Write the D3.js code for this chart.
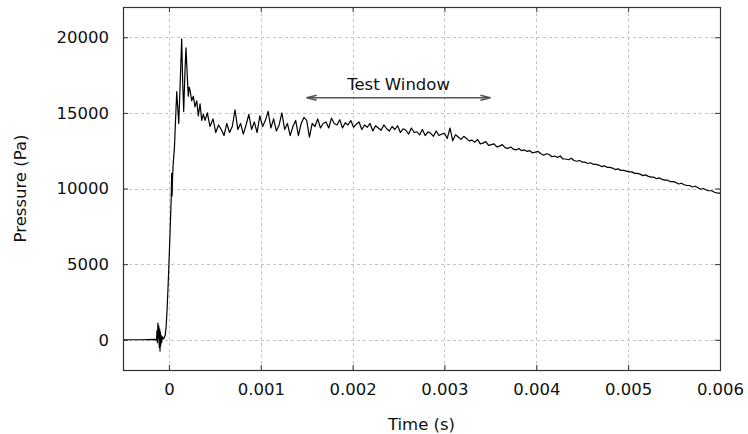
<!DOCTYPE html>
<html>
<head>
<meta charset="utf-8">
<script src="https://cdn.jsdelivr.net/npm/d3@7"></script>
<style>
  body { margin: 0; background: #fff; }
  text { font-family: "DejaVu Sans", Verdana, sans-serif; fill: #111; }
</style>
</head>
<body>
<script>
// Pressure trace: [time (s), pressure (Pa)]
const trace = [
  [-0.0005, 0], [-0.0003, 0], [-0.00015, 20], [-0.000135, -30], [-0.00013, 600], [-0.000125, -200],
  [-0.00012, 1100], [-0.000115, 100], [-0.00011, 900], [-0.000105, -500], [-0.0001, 700],
  [-0.000097, -750], [-0.000093, 500], [-0.00009, -400], [-0.000085, 300], [-0.00008, -200],
  [-0.00007, 200], [-0.00006, 50], [-0.00005, 150], [-0.00004, 300], [-0.00003, 900],
  [-0.00002, 2000], [-0.00001, 3400], [0, 5000], [0.00001, 6700], [0.00002, 8500],
  [0.000026, 9600], [0.00003, 11000], [0.000034, 9500], [0.00004, 10800], [0.000045, 11500],
  [0.00006, 12700], [0.00007, 14200], [0.000085, 16400], [0.000107, 14300], [0.00012, 16500],
  [0.000139, 19900], [0.00015, 17000], [0.000161, 15100], [0.000175, 17800], [0.000186, 19300],
  [0.0002, 17400], [0.000211, 16100], [0.00022, 16700], [0.00023, 16500], [0.000248, 15800],
  [0.000266, 16100], [0.000284, 15400], [0.000303, 15800], [0.00032, 14800], [0.000339, 15600],
  [0.000357, 14500], [0.000375, 14900], [0.000393, 14500], [0.000418, 15000], [0.000447, 14100],
  [0.00048, 14600], [0.00051, 13700], [0.00054, 14200], [0.00057, 13900], [0.0006, 13500],
  [0.00063, 14300], [0.00066, 13700], [0.00069, 14100], [0.00072, 15200], [0.00075, 13900],
  [0.00078, 14300], [0.00081, 13600], [0.00084, 14200], [0.00087, 14900], [0.0009, 13900],
  [0.00093, 14400], [0.00096, 13700], [0.00099, 14800], [0.00102, 14100], [0.00105, 14500],
  [0.00108, 15100], [0.00111, 14000], [0.00114, 14600], [0.00117, 13800], [0.0012, 14200],
  [0.00123, 15000], [0.00126, 13900], [0.00129, 14300], [0.00132, 13500], [0.00135, 14100],
  [0.00138, 14500], [0.00141, 13500], [0.00144, 14300], [0.00147, 14700], [0.0015, 14500],
  [0.00153, 13400], [0.00156, 14300], [0.00159, 14100], [0.00162, 14600], [0.00165, 14000],
  [0.00168, 14300], [0.00171, 14400], [0.00174, 14000], [0.00177, 14650], [0.0018, 14300],
  [0.00183, 14200], [0.00186, 14550], [0.00189, 14000], [0.00192, 14350], [0.00195, 14200],
  [0.00198, 14500], [0.00201, 14050], [0.00204, 14250], [0.00207, 14400], [0.0021, 13900],
  [0.00213, 14200], [0.00216, 14050], [0.00219, 14300], [0.00222, 13800], [0.00225, 14150],
  [0.00228, 14000], [0.00231, 13850], [0.00234, 14200], [0.00237, 13950], [0.0024, 13800],
  [0.00243, 14100], [0.00246, 13900], [0.00249, 14150], [0.00252, 13700], [0.00255, 13950],
  [0.00258, 13850], [0.00261, 13600], [0.00264, 14000], [0.00267, 13700], [0.0027, 13750],
  [0.00273, 13550], [0.00276, 13900], [0.00279, 13500], [0.00282, 13750], [0.00285, 13650],
  [0.00288, 13450], [0.00291, 13800], [0.00294, 13500], [0.00297, 13600], [0.003, 13650],
  [0.00303, 13300], [0.00306, 14000], [0.00309, 13150], [0.00312, 13550], [0.00315, 13400],
  [0.00318, 13250], [0.00321, 13450], [0.00324, 13300], [0.00327, 13150], [0.0033, 13200],
  [0.00333, 13050], [0.00336, 13250], [0.00339, 12950], [0.00342, 13000], [0.00345, 13100],
  [0.00348, 12850], [0.00351, 12900], [0.00354, 12950], [0.00357, 12750], [0.0036, 12800],
  [0.00363, 12900], [0.00366, 12700], [0.00369, 12650], [0.00372, 12750], [0.00375, 12600],
  [0.00378, 12550], [0.00381, 12650], [0.00384, 12500], [0.00387, 12550], [0.0039, 12450],
  [0.00393, 12500], [0.00396, 12350], [0.00399, 12400], [0.00402, 12450], [0.00405, 12300],
  [0.00408, 12200], [0.00411, 12300], [0.00414, 12250], [0.00417, 12100], [0.0042, 12150],
  [0.00423, 12050], [0.00426, 12150], [0.00429, 11950], [0.00432, 11950], [0.00435, 11900],
  [0.00438, 12000], [0.00441, 11850], [0.00444, 11800], [0.00447, 11850], [0.0045, 11750],
  [0.00453, 11750], [0.00456, 11650], [0.00459, 11700], [0.00462, 11600], [0.00465, 11600],
  [0.00468, 11550], [0.00471, 11450], [0.00474, 11500], [0.00477, 11400], [0.0048, 11400],
  [0.00483, 11350], [0.00486, 11250], [0.00489, 11300], [0.00492, 11200], [0.00495, 11200],
  [0.00498, 11150], [0.00501, 11100], [0.00504, 11100], [0.00507, 11000], [0.0051, 11000],
  [0.00513, 10950], [0.00516, 10850], [0.00519, 10900], [0.00522, 10800], [0.00525, 10750],
  [0.00528, 10750], [0.00531, 10650], [0.00534, 10700], [0.00537, 10600], [0.0054, 10550],
  [0.00543, 10550], [0.00546, 10450], [0.00549, 10450], [0.00552, 10400], [0.00555, 10300],
  [0.00558, 10350], [0.00561, 10250], [0.00564, 10200], [0.00567, 10200], [0.0057, 10100],
  [0.00573, 10150], [0.00576, 10050], [0.00579, 9950], [0.00582, 10000], [0.00585, 9900],
  [0.00588, 9850], [0.00591, 9850], [0.00594, 9750], [0.00597, 9700], [0.006, 9700]
];

const xTicks = [0, 0.001, 0.002, 0.003, 0.004, 0.005, 0.006];
const xTickLabels = ['0', '0.001', '0.002', '0.003', '0.004', '0.005', '0.006'];
const yTicks = [0, 5000, 10000, 15000, 20000];
const yTickLabels = ['0', '5000', '10000', '15000', '20000'];

// annotation: test window arrow
const windowStart = 0.0015;
const windowEnd = 0.0035;
const windowLevel = 16000;
const windowLabel = 'Test Window';

const width = 748;
const height = 434;
const margin = { top: 7, right: 28, bottom: 64, left: 123 };

const x = d3.scaleLinear()
  .domain([-0.0005, 0.006])
  .range([margin.left, width - margin.right]);

const y = d3.scaleLinear()
  .domain([-2000, 22000])
  .range([height - margin.bottom, margin.top]);

const svg = d3.select('body')
  .append('svg')
  .attr('width', width)
  .attr('height', height);

// Grid
const grid = svg.append('g')
  .attr('stroke', '#c4c4c4')
  .attr('stroke-width', 1)
  .attr('stroke-dasharray', '3,3');

grid.selectAll('.vgrid')
  .data(xTicks)
  .enter()
  .append('line')
  .attr('x1', d => Math.round(x(d)) + 0.5)
  .attr('x2', d => Math.round(x(d)) + 0.5)
  .attr('y1', y.range()[1])
  .attr('y2', y.range()[0]);

grid.selectAll('.hgrid')
  .data(yTicks)
  .enter()
  .append('line')
  .attr('y1', d => Math.round(y(d)) + 0.5)
  .attr('y2', d => Math.round(y(d)) + 0.5)
  .attr('x1', x.range()[0])
  .attr('x2', x.range()[1]);

// Trace
const line = d3.line()
  .x(d => x(d[0]))
  .y(d => y(d[1]));

svg.append('path')
  .datum(trace)
  .attr('fill', 'none')
  .attr('stroke', '#000')
  .attr('stroke-width', 1.2)
  .attr('stroke-linejoin', 'round')
  .attr('d', line);

// Axes (gnuplot style: inward ticks, mirrored)
const axisColor = '#333';
const xAxis = d3.axisBottom(x)
  .tickValues(xTicks)
  .tickFormat((d, i) => xTickLabels[i])
  .tickSize(-5)
  .tickPadding(13);

svg.append('g')
  .attr('transform', `translate(0, ${y.range()[0]})`)
  .call(xAxis);

const yAxis = d3.axisLeft(y)
  .tickValues(yTicks)
  .tickFormat((d, i) => yTickLabels[i])
  .tickSize(-5)
  .tickPadding(14);

svg.append('g')
  .attr('transform', `translate(${x.range()[0]}, 0)`)
  .call(yAxis);

svg.append('g')
  .attr('transform', `translate(0, ${y.range()[1]})`)
  .call(d3.axisTop(x).tickValues(xTicks).tickFormat('').tickSize(-5));

svg.append('g')
  .attr('transform', `translate(${x.range()[1]}, 0)`)
  .call(d3.axisRight(y).tickValues(yTicks).tickFormat('').tickSize(-5));

svg.selectAll('.domain').attr('stroke', 'none');
svg.selectAll('.tick line').attr('stroke', axisColor);
svg.selectAll('.tick text')
  .attr('font-family', '"DejaVu Sans", Verdana, sans-serif')
  .attr('font-size', 16.5)
  .attr('fill', '#111');

// Frame
svg.append('rect')
  .attr('x', x.range()[0] + 0.5)
  .attr('y', y.range()[1] + 0.5)
  .attr('width', x.range()[1] - x.range()[0])
  .attr('height', y.range()[0] - y.range()[1])
  .attr('fill', 'none')
  .attr('stroke', axisColor)
  .attr('stroke-width', 1.2);

// Axis titles
svg.append('text')
  .attr('x', (x.range()[0] + x.range()[1]) / 2)
  .attr('y', 430)
  .attr('text-anchor', 'middle')
  .attr('font-size', 16.5)
  .text('Time (s)');

svg.append('text')
  .attr('transform', `translate(26, ${(y.range()[0] + y.range()[1]) / 2}) rotate(-90)`)
  .attr('text-anchor', 'middle')
  .attr('font-size', 16.5)
  .text('Pressure (Pa)');

// Test window arrow
const ax1 = x(windowStart);
const ax2 = x(windowEnd);
const ay = y(windowLevel);
const arrow = svg.append('g')
  .attr('stroke', '#555')
  .attr('stroke-width', 1.4)
  .attr('fill', 'none');

arrow.append('line')
  .attr('x1', ax1).attr('x2', ax2)
  .attr('y1', ay).attr('y2', ay);

arrow.append('path')
  .attr('d', `M${ax1 + 10},${ay - 2.5} L${ax1},${ay} L${ax1 + 10},${ay + 2.5}`);

arrow.append('path')
  .attr('d', `M${ax2 - 10},${ay - 2.5} L${ax2},${ay} L${ax2 - 10},${ay + 2.5}`);

svg.append('text')
  .attr('x', x((windowStart + windowEnd) / 2))
  .attr('y', ay - 8)
  .attr('text-anchor', 'middle')
  .attr('font-size', 16.5)
  .text(windowLabel);
</script>
</body>
</html>
